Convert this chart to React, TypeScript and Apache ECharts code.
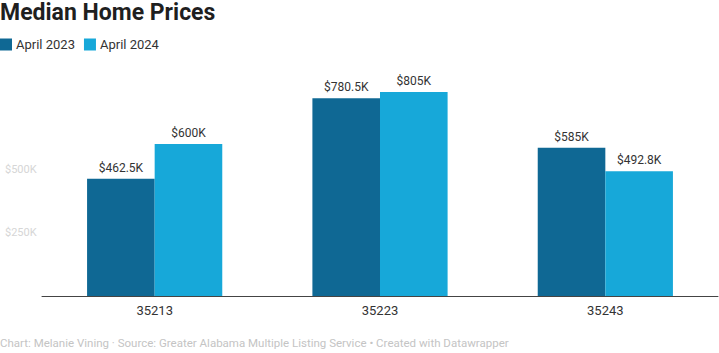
import React, { useEffect, useRef } from "react";
import * as echarts from "echarts";

const categories = ["35213", "35223", "35243"];
const april2023 = [462.5, 780.5, 585];
const april2024 = [600, 805, 492.8];
const seriesNames = ["April 2023", "April 2024"];
const yTickLabels: Record<number, string> = { 250: "$250K", 500: "$500K" };
const titleText = "Median Home Prices";
const footerText =
  "Chart: Melanie Vining · Source: Greater Alabama Multiple Listing Service • Created with Datawrapper";

const FONT = "Roboto, 'Noto Sans', sans-serif";

export default function App() {
  const ref = useRef<HTMLDivElement>(null);
  useEffect(() => {
    if (!ref.current) return;
    const chart = echarts.init(ref.current, null, { renderer: "svg" });
    const labelFmt = (p: any) => `$${p.value}K`;
    chart.setOption({
      animation: false,
      textStyle: { fontFamily: FONT },
      title: {
        text: titleText,
        left: -5,
        top: -4,
        textStyle: { fontSize: 23, fontWeight: "bold", color: "#1f1f1f", fontFamily: FONT },
      },
      legend: {
        left: 0,
        top: 38,
        padding: 0,
        itemWidth: 12,
        itemHeight: 12,
        itemGap: 9,
        icon: "rect",
        textStyle: { fontSize: 13, color: "#333", fontFamily: FONT, padding: [0, 0, 0, -1] },
        data: seriesNames,
      },
      grid: { left: 42, right: 1, top: 68, bottom: 57, containLabel: false },
      xAxis: {
        type: "category",
        data: categories,
        axisLine: { lineStyle: { color: "#444", width: 1 } },
        axisTick: { show: false },
        axisLabel: { fontSize: 13, color: "#333", margin: 8, fontFamily: FONT },
      },
      yAxis: {
        type: "value",
        min: 0,
        max: 900,
        interval: 250,
        splitLine: { show: false },
        axisLine: { show: false },
        axisTick: { show: false },
        axisLabel: {
          align: "left",
          margin: 37,
          fontSize: 11,
          color: "#d6d6d6",
          fontFamily: FONT,
          formatter: (v: number) => yTickLabels[v] || "",
        },
      },
      series: [
        {
          name: seriesNames[0],
          type: "bar",
          data: april2023,
          barGap: "0%",
          barCategoryGap: "40%",
          itemStyle: { color: "#0f6894" },
          label: { show: true, position: "top", distance: 5, fontSize: 12, color: "#333", formatter: labelFmt },
        },
        {
          name: seriesNames[1],
          type: "bar",
          data: april2024,
          barGap: "0%",
          barCategoryGap: "40%",
          itemStyle: { color: "#17a8d9" },
          label: { show: true, position: "top", distance: 5, fontSize: 12, color: "#333", formatter: labelFmt },
        },
      ],
      graphic: [
        {
          type: "text",
          left: 0,
          top: 337,
          style: { text: footerText, fontSize: 11.5, fill: "#c4c4c4", fontFamily: FONT },
        },
      ],
    });
    return () => chart.dispose();
  }, []);
  return (
    <div
      ref={ref}
      style={{ position: "fixed", left: 0, top: 0, width: 719, height: 353, background: "#fff" }}
    />
  );
}
